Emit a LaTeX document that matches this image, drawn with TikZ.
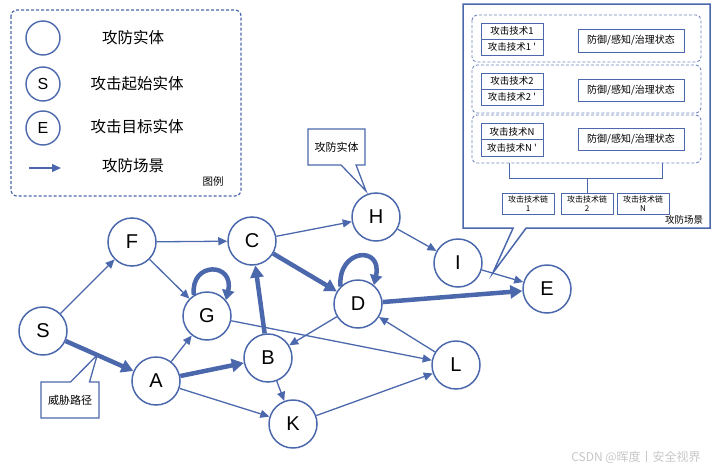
\documentclass[tikz,border=0pt]{standalone}
\usepackage{fontspec}
\setmainfont{Liberation Sans}
\newfontfamily\cjk{Noto Sans CJK SC}
\usetikzlibrary{arrows.meta,calc,shapes.callouts}
\definecolor{eb}{RGB}{76,104,172}
\begin{document}
\begin{tikzpicture}[x=1pt,y=-1pt,
  ent/.style={circle,draw=eb,line width=1.5pt,fill=white,minimum size=48pt,inner sep=0pt,font=\fontsize{20}{20}\selectfont},
  lent/.style={circle,draw=eb,line width=1.4pt,minimum size=34pt,inner sep=0pt,font=\fontsize{16}{16}\selectfont},
  lnk/.style={draw=eb,line width=1.3pt,-{Triangle[length=9pt,width=8pt]}},
  tpath/.style={draw=eb,line width=4.5pt,-{Triangle[length=12pt,width=13pt]}},
  lbl/.style={font=\cjk\fontsize{15.5}{16}\selectfont,inner sep=0pt},
  call/.style={rectangle callout,draw=eb,line width=1.3pt,fill=white,inner sep=0pt,font=\cjk\fontsize{11}{12}\selectfont},
  grp/.style={draw=eb!80,line width=0.9pt,dash pattern=on 3pt off 2pt,rounded corners=5pt},
  sbox/.style={draw=eb,line width=1pt,inner sep=0pt,font=\cjk\fontsize{9.5}{10}\selectfont},
  cbox/.style={draw=eb,line width=1pt,inner sep=0pt,align=center,font=\cjk\fontsize{8}{9}\selectfont},
]
\useasboundingbox (0,0) rectangle (717,471);

% ---------- legend ----------
\draw[draw=eb,line width=1.2pt,dash pattern=on 3pt off 2pt,rounded corners=6pt] (11,10) rectangle (241,196);
\node[lent] (l1) at (43,38) {};
\node[lbl] (t1) at (133,38) {攻防实体};
\node[lent] (l2) at (43,84) {S};
\node[lbl] (t2) at (137,84) {攻击起始实体};
\node[lent] (l3) at (43,128) {E};
\node[lbl] (t3) at (137,127) {攻击目标实体};
\coordinate (la) at (29,168);
\coordinate (lb) at (61,168);
\draw[lnk] (la) -- (lb);
\node[lbl] (t4) at (133,166) {攻防场景};
\node[font=\cjk\fontsize{10.5}{11}\selectfont,inner sep=0pt] (tl) at (213,182) {图例};

% ---------- graph nodes ----------
\node[ent] (S) at (43,331) {S};
\node[ent] (F) at (132,242) {F};
\node[ent] (G) at (207,316) {G};
\node[ent] (A) at (156,381) {A};
\node[ent] (B) at (268,358) {B};
\node[ent] (C) at (252,241) {C};
\node[ent] (K) at (293,424) {K};
\node[ent] (H) at (376,217) {H};
\node[ent] (I) at (458,263) {I};
\node[ent] (E) at (547,289) {E};
\node[ent] (D) at (358,304) {D};
\node[ent] (L) at (456,365) {L};

% ---------- edges ----------
\draw[lnk] (S) -- (F);
\draw[lnk] (F) -- (C);
\draw[lnk] (F) -- (G);
\draw[lnk] (A) -- (G);
\draw[lnk] (A) -- (K);
\draw[lnk] (B) -- (K);
\draw[lnk] (C) -- (H);
\draw[lnk] (D) -- (B);
\draw[lnk] (G) -- (L);
\draw[lnk] (L) -- (D);
\draw[lnk] (K) -- (L);
\draw[lnk] (H) -- (I);
\draw[lnk] (I) -- (E);

\draw[tpath] (S) -- (A);
\draw[tpath] (A) -- (B);
\draw[tpath] (B) -- (C);
\draw[tpath] (C) -- (D);
\draw[tpath] (D) -- (E);
\draw[tpath,-{Triangle[length=10pt,width=12pt]}] (G.122) .. controls ($(G.122)+(-4,-34)$) and ($(G.40)+(9,-38)$) .. (G.40);
\draw[tpath,-{Triangle[length=10pt,width=12pt]}] (D.135) .. controls ($(D.135)+(-3,-38)$) and ($(D.50)+(9,-40)$) .. (D.50);

% ---------- callouts ----------
\coordinate (tipA) at ($(S)!0.48!(A)$);
\node[call,minimum width=58pt,minimum height=36pt,callout absolute pointer=(tipA),callout pointer width=19pt] (cw) at (70,400) {威胁路径};
\coordinate (tipH) at (366,191);
\node[call,minimum width=57pt,minimum height=36pt,callout absolute pointer=(tipH),callout pointer width=15pt] (ch) at (336.5,147) {攻防实体};
\coordinate (tipS) at ($(I)!0.39!(E)$);
\node[call,line width=1.5pt,minimum width=247pt,minimum height=224pt,callout absolute pointer=(tipS),callout pointer width=13pt] (cs) at (586.5,116) {};

% ---------- scene contents ----------
\draw[grp] (472,15) rectangle (701,62);
\draw[grp] (472,65) rectangle (701,113);
\draw[grp] (472,115) rectangle (701,163);

\node[sbox,minimum width=62pt,minimum height=16pt] (a1) at (512,31) {攻击技术1};
\node[sbox,minimum width=62pt,minimum height=16pt] (a1p) at (512,47) {攻击技术1 '};
\node[sbox,minimum width=62pt,minimum height=16pt] (a2) at (512,81) {攻击技术2};
\node[sbox,minimum width=62pt,minimum height=16pt] (a2p) at (512,97) {攻击技术2 '};
\node[sbox,minimum width=62pt,minimum height=16.5pt] (a3) at (512,131.5) {攻击技术N};
\node[sbox,minimum width=62pt,minimum height=16.5pt] (a3p) at (512,148) {攻击技术N '};

\node[sbox,minimum width=106pt,minimum height=23pt,font=\cjk\fontsize{10}{11}\selectfont] (d1) at (631,40.5) {防御/感知/治理状态};
\node[sbox,minimum width=106pt,minimum height=22pt,font=\cjk\fontsize{10}{11}\selectfont] (d2) at (631,90) {防御/感知/治理状态};
\node[sbox,minimum width=106pt,minimum height=22pt,font=\cjk\fontsize{10}{11}\selectfont] (d3) at (631,139) {防御/感知/治理状态};

\node[cbox,minimum width=52pt,minimum height=21pt] (k1) at (528,203.5) {攻击技术链\\1};
\node[cbox,minimum width=52pt,minimum height=21pt] (k2) at (587,203.5) {攻击技术链\\2};
\node[cbox,minimum width=52pt,minimum height=21pt] (k3) at (643,203.5) {攻击技术链\\N};

\coordinate (b1) at (509,163);
\coordinate (b2) at (662,163);
\draw[draw=eb,line width=1pt] (b1) |- (662,178) -- (b2);
\draw[draw=eb,line width=1pt] (k2.north) -- (587,178);

\node[font=\cjk\fontsize{9.5}{10}\selectfont,inner sep=0pt] (ts) at (684,220) {攻防场景};

% ---------- watermark ----------
\node[font=\cjk\fontsize{12}{12}\selectfont,text=gray!45,inner sep=0pt] (wm) at (636,457) {CSDN @晖度丨安全视界};
\end{tikzpicture}
\end{document}
